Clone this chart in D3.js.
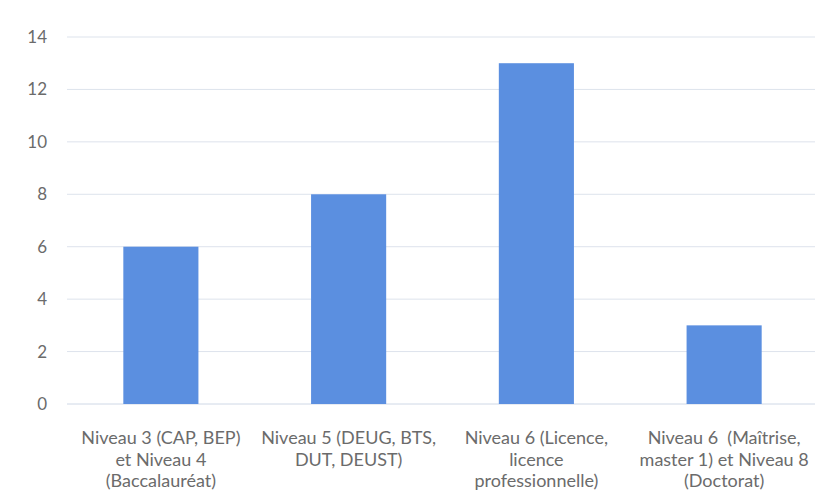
<!DOCTYPE html>
<html><head><meta charset="utf-8">
<script src="https://cdn.jsdelivr.net/npm/d3@7"></script>
<style>body{margin:0;background:#fff;} text{font-family:Lato, "Open Sans", sans-serif; white-space:pre;}</style>
</head><body>
<svg id="c" width="819" height="500"></svg>
<script>
const categories = [
  ["Niveau 3 (CAP, BEP)", "et Niveau 4", "(Baccalauréat)"],
  ["Niveau 5 (DEUG, BTS,", "DUT, DEUST)"],
  ["Niveau 6 (Licence,", "licence", "professionnelle)"],
  ["Niveau 6  (Maîtrise,", "master 1) et Niveau 8", "(Doctorat)"]
];
const values = [6, 8, 13, 3];
const yTicks = [0, 2, 4, 6, 8, 10, 12, 14];

const svg = d3.select("#c");
const x = d3.scaleBand().domain(d3.range(categories.length)).range([67, 818]).paddingInner(0.6).paddingOuter(0.3);
const y = d3.scaleLinear().domain([0, 14]).range([404, 37]);

svg.append("g").selectAll("line").data(yTicks).join("line")
  .attr("x1", 67).attr("x2", 815)
  .attr("y1", d => y(d)).attr("y2", d => y(d))
  .attr("stroke", d => d === 0 ? "#cfd8e6" : "#dde3ec").attr("stroke-width", 1);

svg.append("g").selectAll("text").data(yTicks).join("text")
  .attr("x", 47).attr("y", d => y(d)).attr("dy", "0.35em")
  .attr("text-anchor", "end").attr("fill", "#6b6b6b").attr("font-size", 17)
  .text(d => d);

svg.append("g").selectAll("rect").data(values).join("rect")
  .attr("x", (d, i) => x(i)).attr("width", x.bandwidth())
  .attr("y", d => y(d)).attr("height", d => y(0) - y(d))
  .attr("fill", "#5b8fe0");

const lab = svg.append("g").selectAll("text").data(categories).join("text")
  .attr("text-anchor", "middle").attr("fill", "#6b6b6b").attr("font-size", 18)
  .attr("x", (d, i) => x(i) + x.bandwidth() / 2);
lab.selectAll("tspan").data(d => d).join("tspan")
  .attr("x", function(){ return this.parentNode.getAttribute("x"); })
  .attr("y", (d, j) => 444 + j * 21.5)
  .text(d => d);
</script>
</body></html>
